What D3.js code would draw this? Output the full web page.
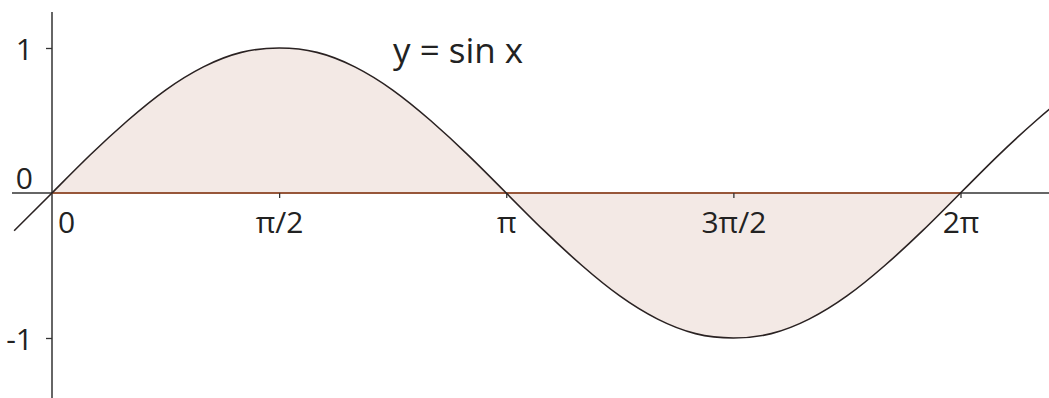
<!DOCTYPE html>
<html>
<head>
<meta charset="utf-8">
<script src="https://cdn.jsdelivr.net/npm/d3@7"></script>
<style>
  html, body { margin: 0; padding: 0; background: #fff; }
  svg { display: block; }
  text { font-family: "Open Sans", sans-serif; fill: #222; }
</style>
</head>
<body>
<script>
(function(){
  //curve samples, x in steps of pi/12
  var stepIndex = [-1, 0, 1, 2, 3, 4, 5, 6, 7, 8, 9, 10, 11, 12, 13, 14, 15, 16, 17, 18, 19, 20, 21, 22, 23, 24, 25, 26, 27, 28];
  var curveValues = [-0.26, 0, 0.26, 0.5, 0.71, 0.87, 0.97, 1, 0.97, 0.87, 0.71, 0.5, 0.26, 0, -0.26, -0.5, -0.71, -0.87, -0.97, -1, -0.97, -0.87, -0.71, -0.5, -0.26, 0, 0.26, 0.5, 0.71, 0.87];
  var shadeFrom = 0, shadeTo = 24; //shaded between 0 and 2pi

  //axis ticks
  var xTickValues = [0, Math.PI / 2, Math.PI, 3 * Math.PI / 2, 2 * Math.PI];
  var xTickLabels = ["0", "\u03c0/2", "\u03c0", "3\u03c0/2", "2\u03c0"];
  var yTickValues = [1, 0, -1];
  var yTickLabels = ["1", "0", "-1"];
  var title = "y = sin x";

  var width = 1049, height = 398;

  var x = d3.scaleLinear().domain([0, 2 * Math.PI]).range([52, 960.5]);
  var y = d3.scaleLinear().domain([-1, 1]).range([338, 48]);

  var points = stepIndex.map(function(k, i){
    return { x: k * Math.PI / 12, y: curveValues[i] };
  });
  var shaded = points.filter(function(d, i){
    return stepIndex[i] >= shadeFrom && stepIndex[i] <= shadeTo;
  });

  var svg = d3.select("body").append("svg")
      .attr("width", width)
      .attr("height", height);

  //shaded region
  var area = d3.area()
      .x(function(d){ return x(d.x); })
      .y0(y(0))
      .y1(function(d){ return y(d.y); })
      .curve(d3.curveNatural);
  svg.append("path")
      .datum(shaded)
      .attr("d", area)
      .attr("fill", "#f3e9e5");

  //axes lines
  svg.append("line")
      .attr("x1", 12).attr("x2", width)
      .attr("y1", y(0)).attr("y2", y(0))
      .attr("stroke", "#333").attr("stroke-width", 1.5);
  svg.append("line")
      .attr("x1", x(0)).attr("x2", x(0))
      .attr("y1", 12).attr("y2", height)
      .attr("stroke", "#333").attr("stroke-width", 1.5);

  //segment on the x axis under the shading
  svg.append("line")
      .attr("x1", x(0)).attr("x2", x(2 * Math.PI))
      .attr("y1", y(0)).attr("y2", y(0))
      .attr("stroke", "#a9532c").attr("stroke-width", 1.6);

  //x axis ticks + labels
  var xAxis = d3.axisBottom(x)
      .tickValues(xTickValues)
      .tickFormat(function(d, i){ return xTickLabels[i]; })
      .tickSize(5)
      .tickPadding(14);
  var gx = svg.append("g")
      .attr("transform", "translate(0," + y(0) + ")")
      .call(xAxis);
  gx.select(".domain").remove();
  gx.selectAll(".tick line").attr("stroke", "#333").attr("stroke-width", 1.3);
  gx.selectAll(".tick text")
      .attr("font-size", 30)
      .attr("font-family", "Open Sans, sans-serif")
      .attr("fill", "#222")
      .attr("dy", "0.71em")
      .attr("dx", function(d, i){ return i === 0 ? 14 : 0; });
  gx.selectAll(".tick").filter(function(d, i){ return i === 0; }).select("line").remove();

  //y axis ticks + labels
  var yAxis = d3.axisLeft(y)
      .tickValues(yTickValues)
      .tickFormat(function(d, i){ return yTickLabels[i]; })
      .tickSize(6)
      .tickPadding(13);
  var gy = svg.append("g")
      .attr("transform", "translate(" + x(0) + ",0)")
      .call(yAxis);
  gy.select(".domain").remove();
  gy.selectAll(".tick line").attr("stroke", "#333").attr("stroke-width", 1.3);
  gy.selectAll(".tick text")
      .attr("font-size", 30)
      .attr("font-family", "Open Sans, sans-serif")
      .attr("fill", "#222")
      .attr("dy", function(d){ return d === 0 ? "-0.15em" : "0.38em"; });
  gy.selectAll(".tick").filter(function(d){ return d === 0; }).select("line").remove();

  //curve
  var line = d3.line()
      .x(function(d){ return x(d.x); })
      .y(function(d){ return y(d.y); })
      .curve(d3.curveNatural);
  svg.append("path")
      .datum(points)
      .attr("d", line)
      .attr("fill", "none")
      .attr("stroke", "#2a2222")
      .attr("stroke-width", 1.6);

  //title
  svg.append("text")
      .attr("x", 393)
      .attr("y", 63)
      .attr("font-size", 35)
      .text(title);
})();
</script>
</body>
</html>
